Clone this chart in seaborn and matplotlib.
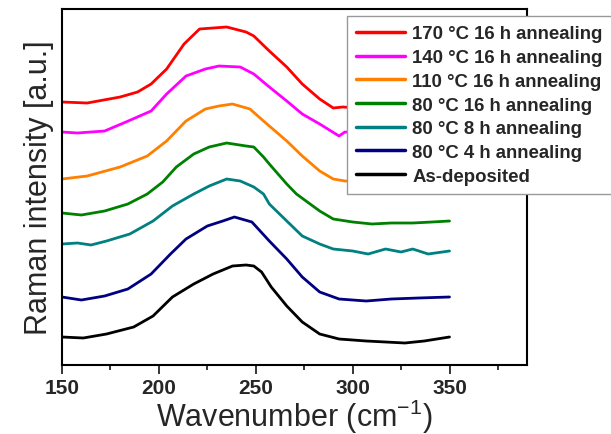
import numpy as np
import pandas as pd
import matplotlib
matplotlib.use("Agg")
import matplotlib.pyplot as plt
import seaborn as sns
from matplotlib.ticker import MultipleLocator

# ---- data (offset-stacked Raman spectra, arbitrary units) ----
labels = ["170 °C 16 h annealing", "140 °C 16 h annealing", "110 °C 16 h annealing",
          "80 °C 16 h annealing", "80 °C 8 h annealing", "80 °C 4 h annealing", "As-deposited"]
colors = ["#FF0000", "#FF00FF", "#FF8000", "#008000", "#008080", "#000080", "#000000"]

wn_170 = [150, 163, 180, 189, 196, 204, 213, 221, 235, 245, 249, 257, 266, 274, 283, 290, 295, 310, 330, 350]
i_170 = [269, 268, 274, 279, 287, 302, 327, 342, 344, 339, 335, 320, 304, 287, 272, 263, 264, 262, 262, 262]

wn_140 = [150, 158, 172, 183, 196, 204, 214, 224, 231, 242, 249, 257, 266, 274, 283, 293, 296, 310, 330, 350]
i_140 = [239, 238, 240, 249, 260, 277, 295, 302, 305, 304, 297, 284, 270, 257, 247, 235, 239, 237, 237, 237]

wn_110 = [150, 163, 180, 194, 204, 214, 224, 231, 238, 247, 254, 257, 266, 274, 283, 290, 296, 310, 330, 350]
i_110 = [192, 195, 204, 215, 230, 250, 262, 265, 267, 262, 250, 245, 230, 215, 200, 192, 190, 189, 189, 189]

wn_80_16 = [150, 160, 172, 184, 194, 202, 209, 218, 226, 235, 245, 249, 254, 257, 266, 271, 283, 290, 300, 310, 320, 331, 341, 350]
i_80_16 = [158, 156, 160, 167, 177, 189, 204, 217, 224, 228, 225, 224, 214, 207, 187, 177, 160, 152, 149, 147, 148, 148, 149, 150]

wn_80_8 = [150, 158, 165, 173, 185, 197, 207, 218, 226, 235, 242, 249, 254, 257, 266, 274, 283, 290, 300, 308, 317, 325, 331, 339, 350]
i_80_8 = [127, 128, 126, 130, 137, 150, 165, 177, 185, 192, 190, 184, 177, 167, 150, 135, 127, 122, 120, 117, 122, 119, 122, 117, 120]

wn_80_4 = [150, 160, 172, 184, 196, 206, 214, 225, 233, 239, 248, 257, 266, 274, 283, 293, 307, 320, 334, 350]
i_80_4 = [74, 71, 75, 82, 97, 117, 132, 145, 150, 154, 149, 130, 112, 94, 79, 72, 70, 72, 73, 74]

wn_asdep = [150, 161, 173, 187, 197, 207, 218, 228, 238, 245, 249, 253, 258, 266, 274, 283, 293, 307, 317, 327, 337, 350]
i_asdep = [34, 33, 37, 44, 55, 74, 87, 97, 105, 106, 105, 99, 84, 65, 49, 37, 32, 30, 29, 28, 30, 34]

x_ticks = [150, 200, 250, 300, 350]

series = [(wn_170, i_170), (wn_140, i_140), (wn_110, i_110), (wn_80_16, i_80_16),
          (wn_80_8, i_80_8), (wn_80_4, i_80_4), (wn_asdep, i_asdep)]

frames = []
for lab, (w, v) in zip(labels, series):
    frames.append(pd.DataFrame({"wn": w, "I": v, "sample": lab}))
df = pd.concat(frames, ignore_index=True)

# ---- style ----
sns.set_style("white")
plt.rcParams["font.family"] = ["Liberation Sans", "DejaVu Sans"]
plt.rcParams["mathtext.fontset"] = "custom"
plt.rcParams["mathtext.rm"] = "Liberation Sans"
plt.rcParams["mathtext.it"] = "Liberation Sans"

fig = plt.figure(figsize=(6.11, 4.35), dpi=100)
ax = fig.add_axes([62 / 611, 1 - 366 / 435, (527 - 62) / 611, (366 - 10) / 435])

sns.lineplot(data=df, x="wn", y="I", hue="sample", hue_order=labels,
             palette=dict(zip(labels, colors)), estimator=None, sort=False,
             linewidth=2.0, ax=ax)

ax.set_xlim(150, 390)
ax.set_ylim(6, 362)
ax.set_xticks(x_ticks)
ax.xaxis.set_minor_locator(MultipleLocator(25))
ax.set_yticks([])
ax.tick_params(axis="x", which="major", direction="out", length=6.5, width=1.3,
               labelsize=15, pad=3, bottom=True)
ax.tick_params(axis="x", which="minor", direction="out", length=3.5, width=1.3, bottom=True)
for t in ax.get_xticklabels():
    t.set_fontweight("bold")
for s in ax.spines.values():
    s.set_color("black")
    s.set_linewidth(1.5)

ax.set_xlabel("Wavenumber (cm$^{\\mathregular{-1}}$)", fontsize=22, labelpad=0)
ax.set_ylabel("Raman intensity [a.u.]", fontsize=22, labelpad=6)

leg = ax.legend(loc="upper left", bbox_to_anchor=(347 / 611, 1 - 17 / 435),
                bbox_transform=fig.transFigure, frameon=True, fancybox=False,
                prop={"family": "Liberation Sans", "weight": "bold", "size": 13.4},
                handlelength=2.6, handletextpad=0.4, labelspacing=0.36,
                borderpad=0.5, borderaxespad=0)
leg.get_frame().set_edgecolor("#999999")
leg.get_frame().set_linewidth(1.0)
leg.get_frame().set_alpha(1.0)
for h in leg.get_lines():
    h.set_linewidth(2.5)

fig.savefig("out.png", dpi=100)
